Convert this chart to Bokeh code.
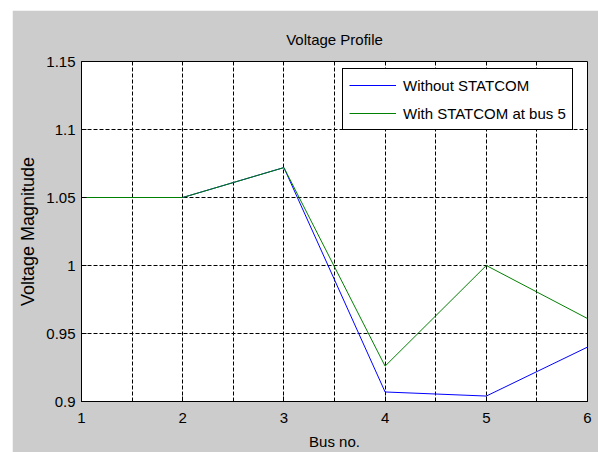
from bokeh.plotting import figure
from bokeh.models import (Range1d, FixedTicker, CustomJSTickFormatter,
                          Legend, LegendItem)
from bokeh.embed import file_html
from bokeh.resources import INLINE

# Data
bus = [1, 2, 3, 4, 5, 6]
without_statcom = [1.05, 1.05, 1.072, 0.907, 0.904, 0.940]
with_statcom = [1.05, 1.05, 1.072, 0.926, 1.000, 0.961]

x_ticks = [1, 2, 3, 4, 5, 6]
x_minor = [1.5, 2.5, 3.5, 4.5, 5.5]
y_ticks = [0.9, 0.95, 1.0, 1.05, 1.1, 1.15]

FONT = "Liberation Sans"
GRAY = "#cccccc"

p = figure(width=586, height=442, x_range=Range1d(1, 6), y_range=Range1d(0.9, 1.15),
           output_backend="svg", toolbar_location=None,
           margin=(10, 0, 0, 12),
           min_border_left=69, min_border_right=11, min_border_top=51, min_border_bottom=50,
           title="Voltage Profile")

p.border_fill_color = GRAY
p.background_fill_color = "white"
p.outline_line_color = "black"
p.outline_line_width = 1
p.outline_line_alpha = 1

p.title.text_font = FONT
p.title.text_font_size = "15px"
p.title.text_font_style = "normal"
p.title.text_color = "black"
p.title.align = "center"
p.title.standoff = 27

# axes
p.xaxis.ticker = FixedTicker(ticks=x_ticks, minor_ticks=x_minor)
p.yaxis.ticker = FixedTicker(ticks=y_ticks)
p.yaxis.formatter = CustomJSTickFormatter(code="return String(Math.round(tick*100)/100);")

for ax in (p.xaxis[0], p.yaxis[0]):
    ax.axis_line_color = "black"
    ax.major_tick_in = 5
    ax.major_tick_out = 0
    ax.major_tick_line_color = "black"
    ax.minor_tick_line_color = None
    ax.major_label_text_font = FONT
    ax.major_label_text_font_size = "15px"
    ax.major_label_text_color = "black"

p.xaxis.major_label_standoff = 7
p.yaxis.major_label_standoff = 6

p.xaxis.axis_label = "Bus no."
p.xaxis.axis_label_text_font = FONT
p.xaxis.axis_label_text_font_size = "15px"
p.xaxis.axis_label_text_font_style = "normal"
p.xaxis.axis_label_text_color = "black"
p.xaxis.axis_label_standoff = 7

p.yaxis.axis_label = "Voltage Magnitude"
p.yaxis.axis_label_text_font = FONT
p.yaxis.axis_label_text_font_size = "18px"
p.yaxis.axis_label_text_font_style = "normal"
p.yaxis.axis_label_text_color = "black"
p.yaxis.axis_label_standoff = 5

# grid
for g in (p.xgrid[0], p.ygrid[0]):
    g.grid_line_color = "black"
    g.grid_line_dash = "4 2"
    g.grid_line_width = 1
    g.grid_line_alpha = 1
p.xgrid.minor_grid_line_color = "black"
p.xgrid.minor_grid_line_dash = "4 2"
p.xgrid.minor_grid_line_width = 1

# lines
r1 = p.line(bus, without_statcom, line_color="#0000ff", line_width=1)
r2 = p.line(bus, with_statcom, line_color="#008000", line_width=1)

legend = Legend(items=[LegendItem(label="Without STATCOM", renderers=[r1]),
                       LegendItem(label="With STATCOM at bus 5", renderers=[r2])],
                location=(261, 271))
legend.padding = 6
legend.spacing = 8
legend.label_height = 20
legend.glyph_height = 20
legend.glyph_width = 47
legend.label_standoff = 7
legend.border_line_color = "black"
legend.border_line_width = 1
legend.border_line_alpha = 1
legend.background_fill_color = "white"
legend.background_fill_alpha = 1
legend.label_text_font = FONT
legend.label_text_font_size = "15px"
legend.label_text_color = "black"
p.add_layout(legend)

open("out.html", "w").write(file_html(p, INLINE))
